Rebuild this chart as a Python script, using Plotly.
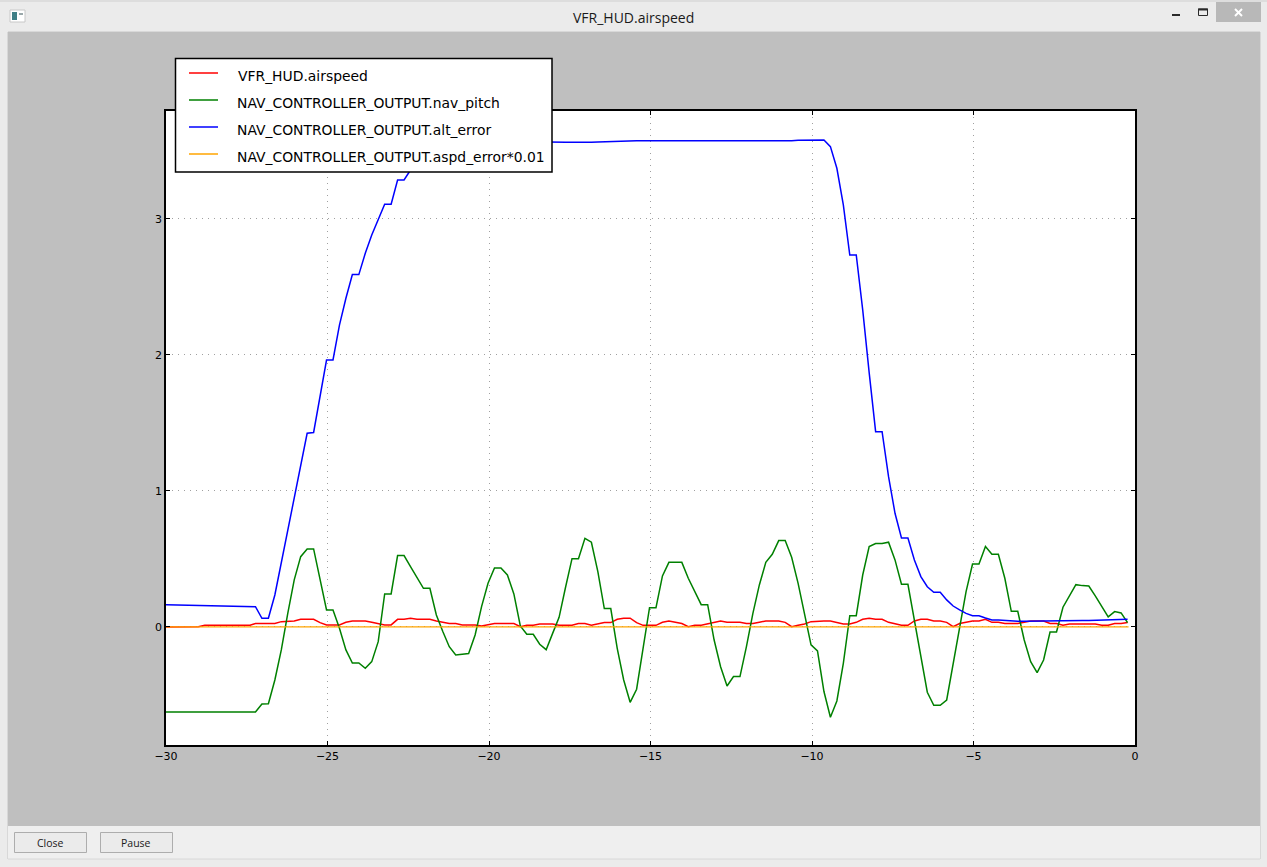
import plotly.graph_objs as go

# Tempos das amostras (segundos)
time_s = [
    -27.23, -27.03, -26.83, -26.63, -26.43, -26.23, -26.03, -25.83, -25.63, -25.43, -25.23, -25.03,
    -24.83, -24.63, -24.43, -24.23, -24.03, -23.83, -23.63, -23.43, -23.23, -23.03, -22.83, -22.63,
    -22.43, -22.23, -22.03, -21.83, -21.63, -21.43, -21.23, -21.03, -20.83, -20.63, -20.43, -20.23,
    -20.03, -19.83, -19.63, -19.43, -19.23, -19.03, -18.83, -18.63, -18.43, -18.23, -18.03, -17.83,
    -17.63, -17.43, -17.23, -17.03, -16.83, -16.63, -16.43, -16.23, -16.03, -15.83, -15.63, -15.43,
    -15.23, -15.03, -14.83, -14.63, -14.43, -14.23, -14.03, -13.83, -13.63, -13.43, -13.23, -13.03,
    -12.83, -12.63, -12.43, -12.23, -12.03, -11.83, -11.63, -11.43, -11.23, -11.03, -10.83, -10.63,
    -10.43, -10.23, -10.03, -9.83, -9.63, -9.43, -9.23, -9.03, -8.83, -8.63, -8.43, -8.23,
    -8.03, -7.83, -7.63, -7.43, -7.23, -7.03, -6.83, -6.63, -6.43, -6.23, -6.03, -5.83,
    -5.63, -5.43, -5.23, -5.03, -4.83, -4.63, -4.43, -4.23, -4.03, -3.83, -3.63, -3.43,
    -3.23, -3.03, -2.83, -2.63, -2.43, -2.23, -2.03, -1.83, -1.63, -1.43, -1.23, -1.03,
    -0.83, -0.63, -0.43, -0.23,
]

airspeed = [
    .025, .025, .025, .025, .039, .044, .044, .056, .056, .056, .032, .015,
    .015, .015, .034, .044, .044, .044, .034, .022, .015, .015, .056, .056,
    .064, .056, .056, .056, .044, .034, .025, .025, .015, .015, .015, .007, .015,
    .025, .025, .025, .025, .002, .012, .012, .022, .022, .022,
    .012, .012, .012, .025, .025, .012, .022, .032, .032, .056, .064, .064,
    .032, .012, .012, .012, .034, .044, .034, .025, .002, .012, .012, .022,
    .034, .044, .034, .034, .034, .025, .025, .034, .044, .044, .044, .034,
    .002, .012, .022, .039,
    .044, .044, .044, .032, .022, .022, .034, .056, .064, .056, .056, .034,
    .025, .012, .012, .044, .056, .056, .044, .044, .034, .002, .025, .034,
    .044, .044, .056, .034, .034, .025, .025, .025, .034, .044, .044, .044,
    .025, .025, .012, .022, .022, .022, .022, .022, .012, .012, .025, .025, .032,
]

nav_pitch = [
    -.625, -.566, -.564, -.39, -.169, .10, .346, .517, .574, .574, .358, .125,
    .125, -.01, -.169, -.265, -.265, -.304, -.255, -.108, .243, .243, .525, .525,
    .444, .365, .284, .284, .088, -.034, -.145, -.206, -.199, -.196, -.059, .15, .321,
    .434, .434, .382, .243, .007, -.054, -.054, -.127, -.167, -.047, .071, .292,
    .502, .502, .652, .623, .407, .135, .135, -.157, -.39, -.554, -.458, -.157,
    .142, .142, .375, .475, .475, .475, .358, .26, .164, .164, -.096, -.292,
    -.434, -.365, -.365, -.145, .10, .309, .475, .534, .635, .635, .512, .321,
    .088, -.132,
    -.176, -.475, -.664, -.544, -.267, .083, .083, .382, .591, .613, .613, .623,
    .493, .314, .314, .039, -.218, -.48, -.576, -.576, -.537, -.267, -.01, .26,
    .463, .463, .591, .534, .534, .358, .115, .115, -.096, -.255, -.336, -.243,
    -.037, -.037, .145, .228, .311, .304, .301, .228, .154, .074, .113, .103, .032,
]

alt_error = [
    .149, .064, .064, .235, .468, .713, .946, 1.191, 1.424, 1.43, 1.693, 1.963,
    1.963, 2.22, 2.417, 2.591, 2.591, 2.748, 2.882, 2.998, 3.108, 3.108, 3.287, 3.287,
    3.36, 3.42, 3.47, 3.47, 3.51, 3.53, 3.54, 3.55, 3.55, 3.56, 3.56, 3.565, 3.565,
    3.565, 3.57, 3.57, 3.57, 3.57, 3.57, 3.57, 3.57, 3.57,
    3.568, 3.566, 3.565, 3.564, 3.563, 3.563, 3.564, 3.566, 3.568, 3.571, 3.574, 3.576,
    3.576, 3.576, 3.576, 3.576, 3.575, 3.574, 3.573, 3.572, 3.573, 3.574, 3.575, 3.576,
    3.577, 3.577, 3.577, 3.577, 3.577, 3.576, 3.576, 3.575, 3.575, 3.574, 3.574, 3.575,
    3.575, 3.576, 3.578, 3.579, 3.58, 3.58, 3.581,
    3.532, 3.373, 3.103, 2.735, 2.735, 2.331, 1.87, 1.436, 1.436, 1.105, .836, .654,
    .654, .493, .37, .296, .255, .255, .199, .154, .125, .10, .083, .083, .066,
    .051, .051, .047, .044, .042, .042, .042, .042, .043, .043, .044, .044, .045,
    .046, .047, .048, .049, .05, .052, .054, .055, .056,
]

# Trecho inicial, com poucas amostras antes de -27.2
lead_time_airspeed = [-30.0, -29.0, -28.8, -27.4]
lead_airspeed = [0.0, 0.002, 0.012, 0.012]
lead_time = [-30.0]
lead_nav_pitch = [-0.625]
lead_alt_error = [0.164]

aspd_time = [-30.0, -0.2]
aspd_error = [0.0, 0.0]

x_ticks = [-30, -25, -20, -15, -10, -5, 0]
y_ticks = [0, 1, 2, 3]

legend_names = [
    "VFR_HUD.airspeed",
    "NAV_CONTROLLER_OUTPUT.nav_pitch",
    "NAV_CONTROLLER_OUTPUT.alt_error",
    "NAV_CONTROLLER_OUTPUT.aspd_error*0.01",
]
legend_colors = ["#ff0000", "#008000", "#0000ff", "#ffa500"]

W, H = 1267, 867
UI_FONT = "Open Sans"


def px(x):
    return x / W


def py(y):
    return 1 - y / H


def rect(x0, y0, x1, y1, fill, line=None, width=1, layer="below"):
    return dict(
        type="rect", xref="paper", yref="paper", layer=layer,
        x0=px(x0), x1=px(x1), y0=py(y0), y1=py(y1), fillcolor=fill,
        line=dict(color=line, width=width) if line else dict(width=0),
    )


def seg(x0, y0, x1, y1, color, width=1, layer="below"):
    return dict(
        type="line", xref="paper", yref="paper", layer=layer,
        x0=px(x0), x1=px(x1), y0=py(y0), y1=py(y1),
        line=dict(color=color, width=width),
    )


def label(x, y, text, size, font=UI_FONT, color="#1a1a1a", anchor="center"):
    return dict(
        xref="paper", yref="paper", x=px(x), y=py(y), text=text, showarrow=False,
        xanchor=anchor, yanchor="middle", font=dict(family=font, size=size, color=color),
    )


fig = go.Figure()
fig.add_trace(go.Scatter(x=lead_time_airspeed + time_s, y=lead_airspeed + airspeed, mode="lines",
                         name=legend_names[0], line=dict(color=legend_colors[0], width=1.5)))
fig.add_trace(go.Scatter(x=lead_time + time_s, y=lead_nav_pitch + nav_pitch, mode="lines",
                         name=legend_names[1], line=dict(color=legend_colors[1], width=1.5)))
fig.add_trace(go.Scatter(x=lead_time + time_s, y=lead_alt_error + alt_error, mode="lines",
                         name=legend_names[2], line=dict(color=legend_colors[2], width=1.5)))
fig.add_trace(go.Scatter(x=aspd_time, y=aspd_error, mode="lines",
                         name=legend_names[3], line=dict(color=legend_colors[3], width=1.2)))

# Janela em volta do grafico
shapes = [
    seg(0, 1, W, 1, "#cfcfcf"),
    rect(8, 32, 1260, 826, "#bfbfbf"),
    rect(8, 826, 1260, 859, "#efefef"),
    seg(8, 859, 1260, 859, "#d8d8d8"),
    seg(7.5, 32, 7.5, 859, "#d8d8d8"),
    seg(1260.5, 32, 1260.5, 859, "#d8d8d8"),
    seg(8, 31.5, 1260, 31.5, "#d8d8d8"),
    rect(166, 111, 1135, 745, "#ffffff"),
    # icone
    rect(10, 10, 25, 22, "#ffffff", "#c8c8c8"),
    rect(12, 12, 17, 20, "#3f7f86"),
    rect(19, 13, 23, 15, "#9aa8aa"),
    # botoes da janela
    rect(1172, 14, 1180, 16, "#2a2a2a"),
    rect(1198.5, 9, 1207.5, 15.5, "#ebebeb", "#2a2a2a"),
    seg(1198, 9.5, 1208, 9.5, "#2a2a2a", 2),
    rect(1216, 2, 1261, 22, "#b8b8b8"),
    seg(1235, 9, 1242, 16, "#ffffff", 2),
    seg(1242, 9, 1235, 16, "#ffffff", 2),
    # botoes Close / Pause
    rect(14.5, 832.5, 86.5, 852.5, "#ebebeb", "#adadad"),
    rect(100.5, 832.5, 172.5, 852.5, "#ebebeb", "#adadad"),
    # legenda
    rect(175.5, 58.5, 552, 172, "#ffffff", "#000000", 1.5, layer="above"),
]
for i, color in enumerate(legend_colors):
    shapes.append(seg(189, 73 + 27 * i, 218, 73 + 27 * i, color, 1.5, layer="above"))

annotations = [
    label(633, 17, "VFR_HUD.airspeed", 14),
    label(50, 843, "Close", 10.5),
    label(136, 843, "Pause", 10.5),
]
for i, name in enumerate(legend_names):
    annotations.append(label(236 if i == 0 else 235, 76 + 27 * i, name, 13.9, "DejaVu Sans", "#000000", "left"))

axis_style = dict(
    showgrid=True, gridcolor="#a0a0a0", griddash="1px,5px", gridwidth=1,
    zeroline=False, showline=True, linecolor="#000000", linewidth=1.5, mirror="allticks",
    ticks="inside", ticklen=4, tickwidth=1, tickcolor="#000000",
    tickfont=dict(family="DejaVu Sans", size=11, color="#000000"),
)

fig.update_layout(
    width=W, height=H,
    margin=dict(l=0, r=0, t=0, b=0, autoexpand=False),
    paper_bgcolor="#ebebeb",
    plot_bgcolor="#ffffff",
    showlegend=False,
    shapes=shapes,
    annotations=annotations,
    xaxis=dict(domain=[166 / W, 1135 / W], range=[-30, 0], tickmode="array", tickvals=x_ticks,
               ticktext=[str(v).replace("-", "\u2212") for v in x_ticks], **axis_style),
    yaxis=dict(domain=[1 - 745 / H, 1 - 111 / H], range=[-0.868, 3.794], tickmode="array", tickvals=y_ticks,
               ticktext=[str(v) for v in y_ticks], **axis_style),
)

fig.write_html("out.html", config={"displayModeBar": False},
               post_script="document.body.style.margin='0';document.body.style.overflow='hidden';")
